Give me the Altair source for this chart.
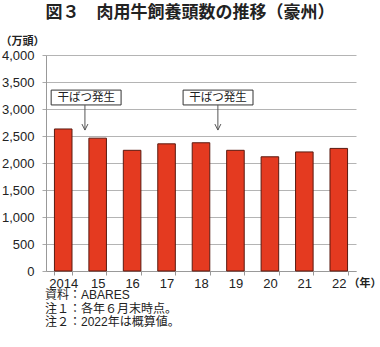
import altair as alt
import pandas as pd

# ---- data ----
years = ["2014", "15", "16", "17", "18", "19", "20", "21", "22"]
cattle = [2630, 2460, 2235, 2355, 2375, 2235, 2115, 2205, 2270]

drought_label = ["干ばつ発生", "干ばつ発生"]
box_x0 = [0.15, 3.98]
box_x1 = [2.18, 6.01]
box_y0 = [3075, 3075]
box_y1 = [3350, 3350]
arrow_x = [1.13, 4.99]
arrow_tip = [2610, 2610]

title_text = ["図３　肉用牛飼養頭数の推移（豪州）"]
y_unit = "（万頭）"
x_unit = "（年）"
notes = ["資料：ABARES\n注１：各年６月末時点。\n注２：2022年は概算値。"]

FONT = "Liberation Sans, Noto Sans CJK JP"
JFONT = "Noto Sans CJK JP"

df = pd.DataFrame({"year": years, "value": cattle})
ann = pd.DataFrame({
    "label": drought_label,
    "bx0": box_x0, "bx1": box_x1,
    "by0": box_y0, "by1": box_y1,
    "ax": arrow_x, "tip": arrow_tip,
})
ann["cx"] = (ann["bx0"] + ann["bx1"]) / 2
ann["cy"] = (ann["by0"] + ann["by1"]) / 2

yscale = alt.Scale(domain=[0, 4000], nice=False)
qx = alt.Scale(domain=[0, 9], nice=False, zero=False)

y_axis = alt.Axis(
    values=list(range(0, 4001, 500)), format=",.0f",
    title=y_unit, titleAngle=0, titleX=-46, titleY=-14, titleAlign="left",
    titleBaseline="middle", titleFont=JFONT, titleFontSize=11, titleFontWeight="bold",
    titleColor="#222",
    labelFont=FONT, labelFontSize=13, labelColor="#222", labelPadding=8,
    tickSize=4, tickColor="#aaa", domainColor="#999",
    grid=True, gridColor="#b4b4b4", gridWidth=1,
)

bars = alt.Chart(df).mark_bar(color="#e43a20", stroke="#5a1a10", strokeWidth=1).encode(
    x=alt.X(
        "year:N", sort=years,
        scale=alt.Scale(paddingInner=0.49, paddingOuter=0.245),
        axis=alt.Axis(
            title=x_unit, titleX=302, titleY=12, titleAlign="left", titleBaseline="middle",
            titleFont=JFONT, titleFontSize=11, titleFontWeight="bold", titleColor="#222",
            labelAngle=0, labelFont=FONT, labelFontSize=13, labelColor="#222", labelPadding=2,
            tickBand="extent", tickSize=4, tickColor="#999", domainColor="#999", grid=False,
        ),
    ),
    y=alt.Y("value:Q", scale=yscale, axis=y_axis),
)

boxes = alt.Chart(ann).mark_rect(fill="white", stroke="#333", strokeWidth=1).encode(
    x=alt.X("bx0:Q", scale=qx, axis=None), x2="bx1:Q",
    y=alt.Y("by0:Q", scale=yscale, axis=y_axis), y2="by1:Q",
)
box_text = alt.Chart(ann).mark_text(font=JFONT, fontSize=11.5, color="#222", baseline="middle").encode(
    x=alt.X("cx:Q", scale=qx, axis=None),
    y=alt.Y("cy:Q", scale=yscale, axis=y_axis),
    text="label:N",
)
arrow_line = alt.Chart(ann).mark_rule(color="#555", strokeWidth=1).encode(
    x=alt.X("ax:Q", scale=qx, axis=None),
    y=alt.Y("by0:Q", scale=yscale, axis=y_axis), y2="tip:Q",
)
arrow_head = alt.Chart(ann).mark_point(
    shape="M-1,-2L0,0L1,-2", size=36, filled=False, stroke="#555", strokeWidth=1, opacity=1
).encode(
    x=alt.X("ax:Q", scale=qx, axis=None),
    y=alt.Y("tip:Q", scale=yscale, axis=y_axis),
)

title = alt.Chart(pd.DataFrame({"t": title_text})).mark_text(
    font=JFONT, fontSize=17, fontWeight="bold", color="#222", align="center", baseline="middle"
).encode(x=alt.value(144), y=alt.value(-42), text="t:N")

note = alt.Chart(pd.DataFrame({"t": notes})).mark_text(
    font=FONT, fontSize=12, color="#222", align="left", baseline="top",
    lineBreak="\n", lineHeight=13.5,
).encode(x=alt.value(-1), y=alt.value(235), text="t:N")

chart = alt.layer(bars, boxes, box_text, arrow_line, arrow_head, title, note).resolve_scale(
    x="independent"
).properties(
    width=310, height=216,
    autosize=alt.AutoSizeParams(type="none"),
    padding={"left": 46, "top": 55, "right": 24, "bottom": 76},
    background="white",
).configure_view(stroke=None)

chart.save("out.html", embed_options={"renderer": "svg", "actions": False})
